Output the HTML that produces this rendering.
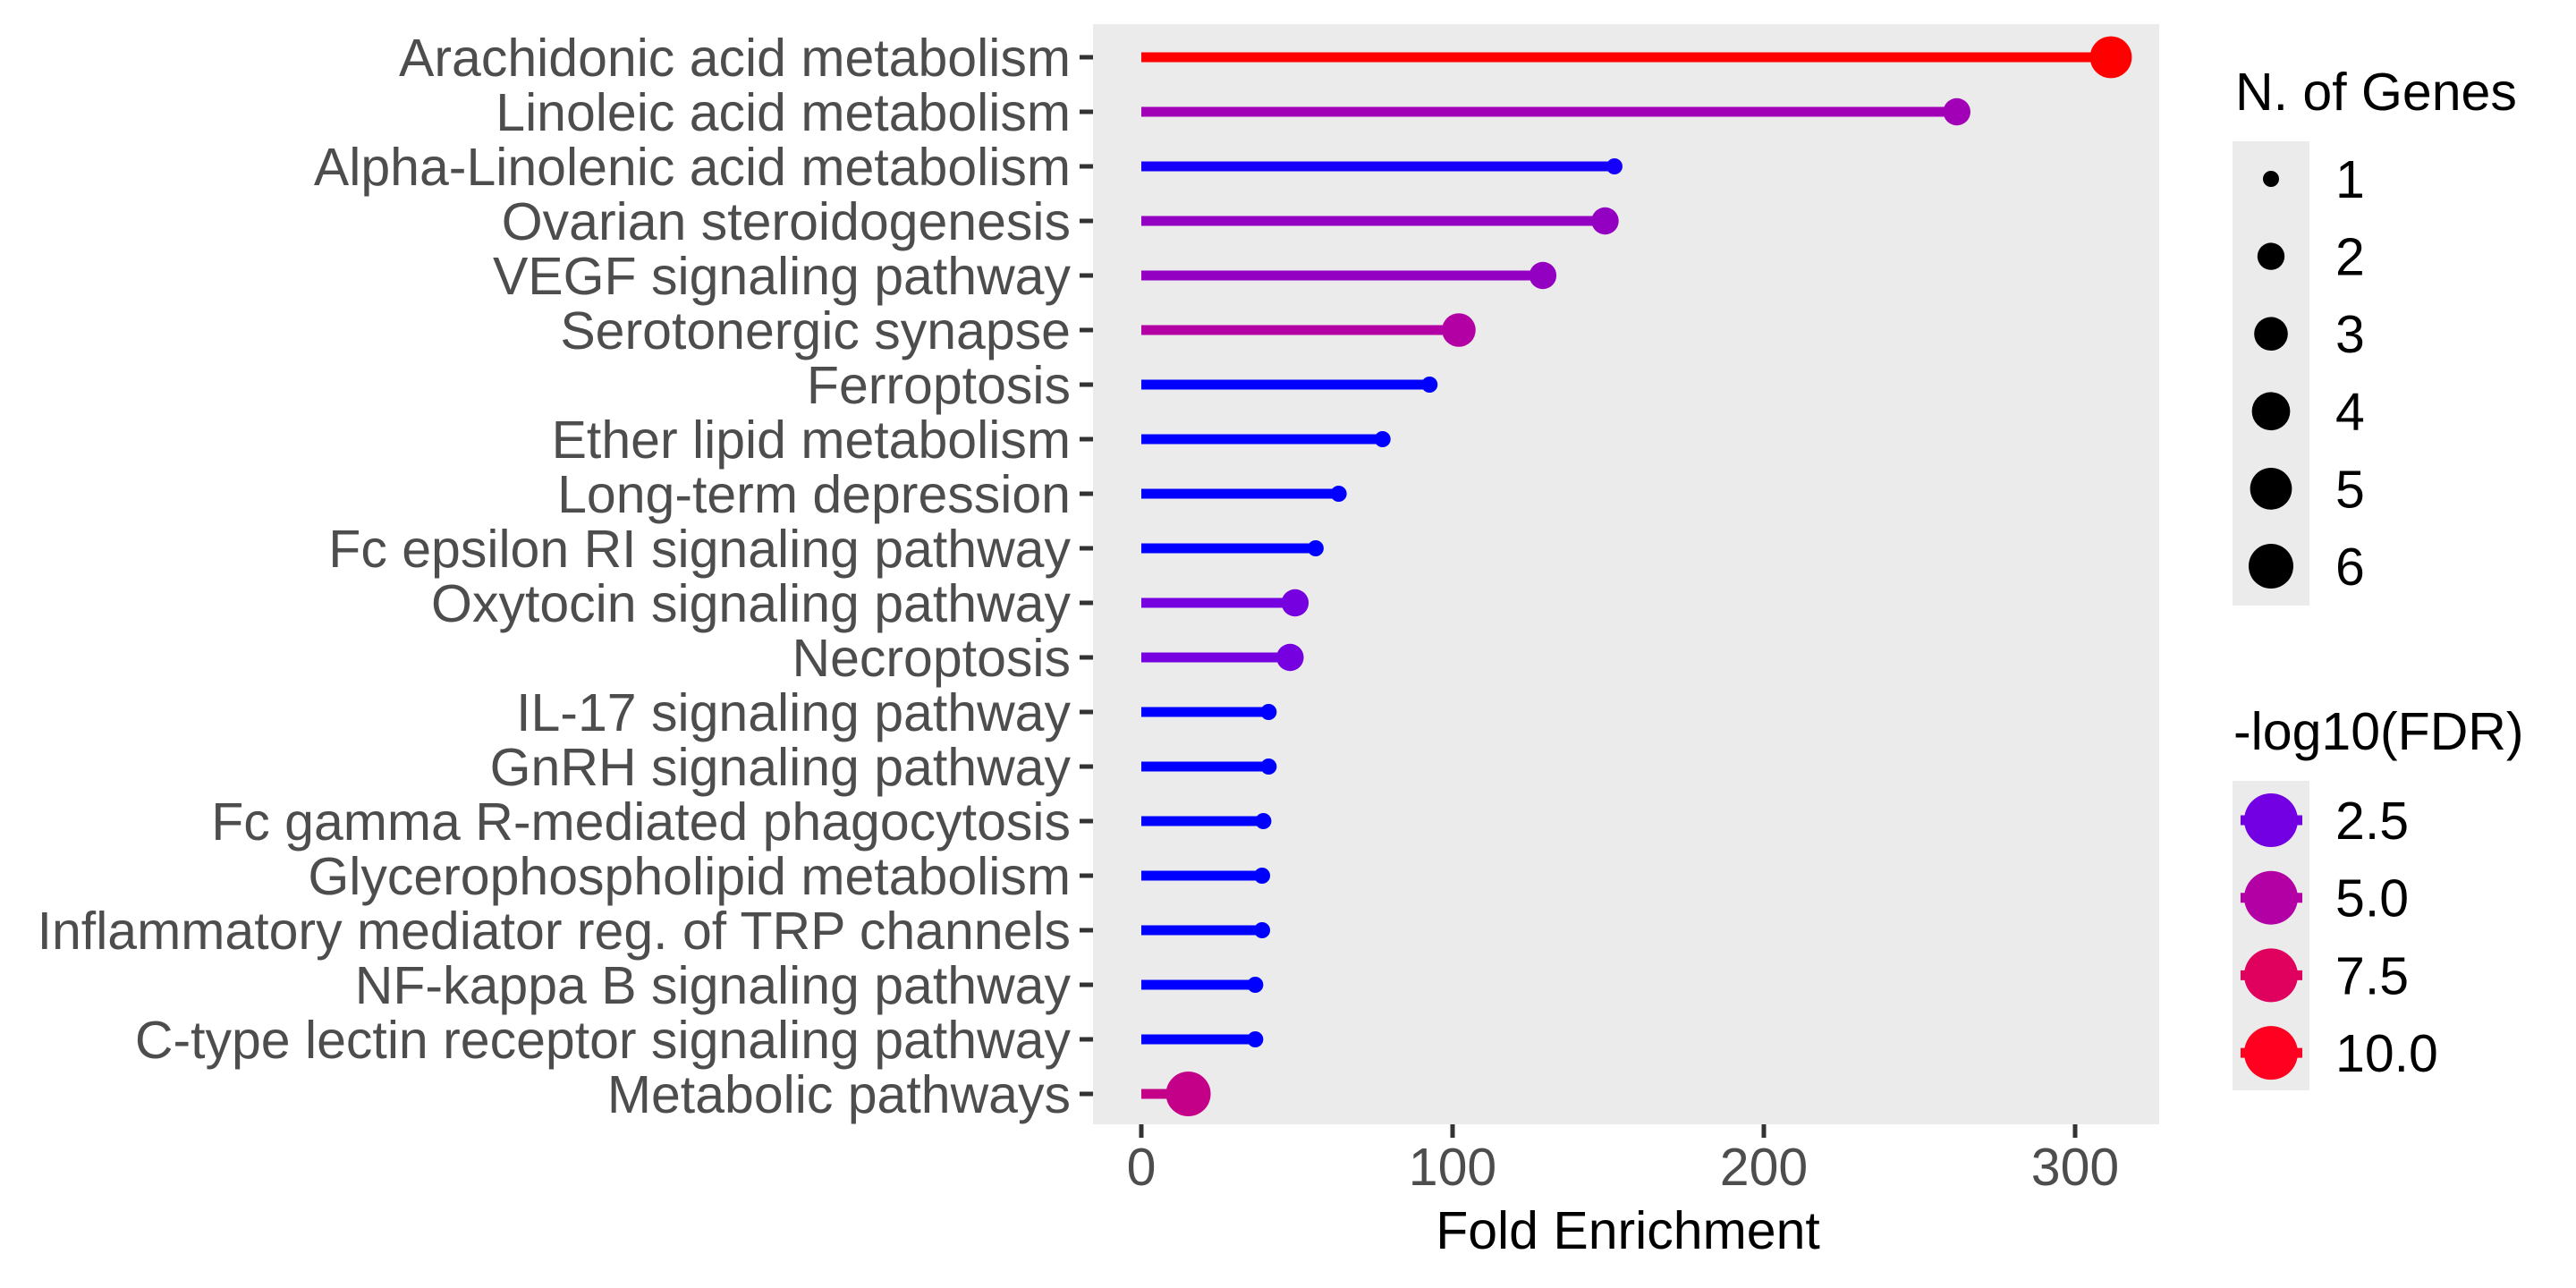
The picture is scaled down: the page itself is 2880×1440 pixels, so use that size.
<!DOCTYPE html>
<html><head><meta charset="utf-8"><style>
html,body{margin:0;padding:0;background:#fff;}
svg{display:block;font-family:"Liberation Sans",sans-serif;}
</style></head><body>
<svg id="chart" width="2880" height="1440" viewBox="0 0 2880 1440" xmlns="http://www.w3.org/2000/svg">
<rect x="0" y="0" width="2880" height="1440" fill="#fff"/>
<rect x="1222" y="27" width="1192" height="1230" fill="#EBEBEB"/>
<g id="marks"></g>
<g id="axes"></g>
<text x="1820" y="1396" font-size="59" text-anchor="middle" fill="#000">Fold Enrichment</text>
<g>
<text x="2499" y="123" font-size="59" fill="#000">N. of Genes</text>
<rect x="2496" y="158" width="86" height="519" fill="#EBEBEB"/>
<g id="sizeLegend"></g>
</g>
<g>
<text x="2497" y="838" font-size="59" fill="#000">-log10(FDR)</text>
<rect x="2496" y="873" width="86" height="346" fill="#EBEBEB"/>
<g id="colorLegend"></g>
</g>
</svg>
<script>
const categories = ["Arachidonic acid metabolism","Linoleic acid metabolism","Alpha-Linolenic acid metabolism","Ovarian steroidogenesis","VEGF signaling pathway","Serotonergic synapse","Ferroptosis","Ether lipid metabolism","Long-term depression","Fc epsilon RI signaling pathway","Oxytocin signaling pathway","Necroptosis","IL-17 signaling pathway","GnRH signaling pathway","Fc gamma R-mediated phagocytosis","Glycerophospholipid metabolism","Inflammatory mediator reg. of TRP channels","NF-kappa B signaling pathway","C-type lectin receptor signaling pathway","Metabolic pathways"];
const foldEnrichment = [311.5,262,152,149,129,102,92.6,77.5,63.4,56,49.4,47.8,40.9,40.9,39.2,38.8,38.8,36.6,36.6,15.1];
const nGenes = [5,2,1,2,2,3,1,1,1,1,2,2,1,1,1,1,1,1,1,6];
const negLogFDR = [10.6,4.3,1.6,3.8,3.8,5.0,1.4,1.4,1.4,1.4,2.6,2.6,1.4,1.4,1.4,1.4,1.4,1.4,1.4,6.0];
const xTicks = [0,100,200,300];
const sizeBreaks = [1,2,3,4,5,6];
const colorBreaks = [2.5,5.0,7.5,10.0];

const NS="http://www.w3.org/2000/svg";
function mk(tag, attrs, parent){const e=document.createElementNS(NS,tag);for(const k in attrs)e.setAttribute(k,attrs[k]);parent.appendChild(e);return e;}
function xScale(v){return 1276 + v*3.48;}
function yScale(i){return 64 + i*61;}
function rScale(n){return 9 + 16*Math.log(n)/Math.log(6);}
const stops=[[1.4,[0,0,255]],[2.5,[115,0,227]],[5.0,[179,0,164]],[7.5,[224,0,94]],[10.0,[255,0,32]],[10.6,[255,0,0]]];
function colorScale(v){
  if(v<=stops[0][0])return "rgb(0,0,255)";
  for(let i=1;i<stops.length;i++){if(v<=stops[i][0]){const a=stops[i-1],b=stops[i];const t=(v-a[0])/(b[0]-a[0]);const c=a[1].map((x,j)=>Math.round(x+(b[1][j]-x)*t));return "rgb("+c.join(",")+")";}}
  return "rgb(255,0,0)";
}
const marks=document.getElementById('marks');
const axes=document.getElementById('axes');
categories.forEach((c,i)=>{
  const y=yScale(i), col=colorScale(negLogFDR[i]);
  const l=mk('line',{x1:xScale(0),x2:xScale(foldEnrichment[i]),y1:y,y2:y,stroke:col,'stroke-width':11},marks);
  
  
  const p=mk('circle',{cx:xScale(foldEnrichment[i]),cy:y,r:rScale(nGenes[i]),fill:col},marks);
  
  
  const t=mk('line',{x1:1207,x2:1222,y1:y,y2:y,stroke:'#333','stroke-width':5},axes);
  
  
  const lb=mk('text',{x:1197,y:y+21,'font-size':59,'text-anchor':'end',fill:'#4D4D4D'},axes);
  lb.textContent=c;
  
  
});
xTicks.forEach(v=>{
  const x=xScale(v);
  const t=mk('line',{x1:x,x2:x,y1:1257,y2:1272,stroke:'#333','stroke-width':5},axes);
  
  
  const lb=mk('text',{x:x,y:1325,'font-size':59,'text-anchor':'middle',fill:'#4D4D4D'},axes);
  lb.textContent=String(v);
  
  
});
const sl=document.getElementById('sizeLegend');
sizeBreaks.forEach((n,i)=>{
  const y=200+i*86.6;
  const c=mk('circle',{cx:2539,cy:y,r:rScale(n),fill:'#000'},sl);
  
  
  const t=mk('text',{x:2611,y:y+21,'font-size':59,fill:'#000'},sl);
  t.textContent=String(n);
  
  
});
const cl=document.getElementById('colorLegend');
colorBreaks.forEach((v,i)=>{
  const y=917+i*86.7, col=colorScale(v);
  const l=mk('line',{x1:2505,x2:2574,y1:y,y2:y,stroke:col,'stroke-width':11},cl);
  
  
  const c=mk('circle',{cx:2539,cy:y,r:30,fill:col},cl);
  
  
  const t=mk('text',{x:2611,y:y+21,'font-size':59,fill:'#000'},cl);
  t.textContent=v.toFixed(1);
  
  
});
</script>
</body></html>
